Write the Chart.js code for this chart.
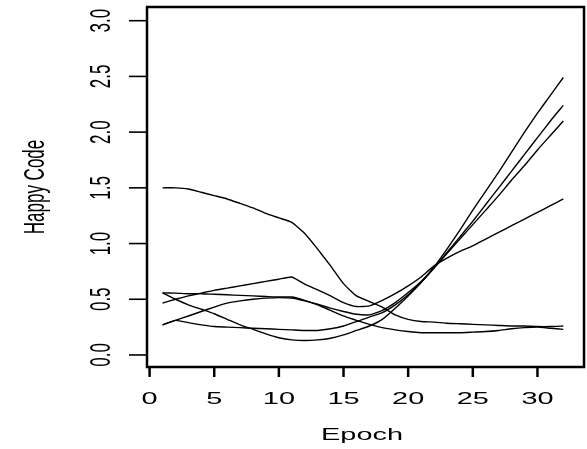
<!DOCTYPE html>
<html>
<head>
<meta charset="utf-8">
<script src="https://cdn.jsdelivr.net/npm/chart.js@4"></script>
<style>
  html, body { margin: 0; padding: 0; background: #fff; }
  canvas { display: block; }
</style>
</head>
<body>
<canvas id="chart" width="587" height="449"></canvas>
<script>
const epochs = [1, 2, 3, 4, 5, 6, 7, 8, 9, 10, 11, 12, 13, 14, 15, 16,
  17, 18, 19, 20, 21, 22, 23, 24, 25, 26, 27, 28, 29, 30, 31, 32];

// one array per training run
const runHigh = [1.50, 1.50, 1.49, 1.46, 1.43, 1.40, 1.36, 1.32, 1.27, 1.23, 1.19, 1.09, 0.95, 0.80, 0.64, 0.53,
  0.48, 0.43, 0.36, 0.32, 0.30, 0.295, 0.285, 0.28, 0.275, 0.27, 0.265, 0.26, 0.26, 0.255, 0.255, 0.26];
const runBump = [0.465, 0.50, 0.53, 0.555, 0.58, 0.60, 0.62, 0.64, 0.66, 0.68, 0.70, 0.635, 0.585, 0.53, 0.47, 0.435,
  0.44, 0.49, 0.55, 0.62, 0.70, 0.80, 0.87, 0.93, 0.98, 1.04, 1.10, 1.16, 1.22, 1.28, 1.34, 1.40];
const runDip = [0.557, 0.50, 0.45, 0.41, 0.37, 0.32, 0.27, 0.23, 0.19, 0.155, 0.135, 0.13, 0.135, 0.15, 0.18, 0.22,
  0.26, 0.32, 0.42, 0.53, 0.65, 0.79, 0.95, 1.12, 1.30, 1.47, 1.64, 1.82, 2.00, 2.17, 2.33, 2.49];
const runFlat = [0.27, 0.31, 0.29, 0.27, 0.255, 0.25, 0.245, 0.24, 0.235, 0.23, 0.225, 0.22, 0.22, 0.235, 0.26, 0.30,
  0.34, 0.38, 0.45, 0.54, 0.65, 0.78, 0.92, 1.06, 1.20, 1.35, 1.50, 1.65, 1.80, 1.95, 2.10, 2.24];
const runRise = [0.27, 0.31, 0.35, 0.39, 0.43, 0.465, 0.485, 0.50, 0.51, 0.515, 0.51, 0.485, 0.455, 0.42, 0.39, 0.365,
  0.36, 0.40, 0.47, 0.56, 0.66, 0.78, 0.91, 1.04, 1.17, 1.30, 1.43, 1.57, 1.70, 1.84, 1.97, 2.10];
const runSlide = [0.557, 0.555, 0.55, 0.55, 0.545, 0.54, 0.535, 0.53, 0.525, 0.52, 0.52, 0.49, 0.45, 0.40, 0.35, 0.31,
  0.275, 0.245, 0.225, 0.21, 0.20, 0.20, 0.20, 0.20, 0.205, 0.21, 0.22, 0.235, 0.245, 0.25, 0.24, 0.23];

const xTicks = [0, 5, 10, 15, 20, 25, 30];
const yTicks = [0, 0.5, 1, 1.5, 2, 2.5, 3];
const yTickLabels = ['0.0', '0.5', '1.0', '1.5', '2.0', '2.5', '3.0'];
const xTitle = 'Epoch';
const yTitle = 'Happy Code';

const runs = [runHigh, runBump, runDip, runFlat, runRise, runSlide];

// text in this plot is wide, so every label gets stretched sideways
const stretch = 1.7;
const labelFont = '17px "Liberation Sans", Arial, sans-serif';

function wideText(ctx, text, x, y, rotated) {
  ctx.save();
  ctx.translate(x, y);
  ctx.scale(stretch, 1);
  if (rotated) ctx.rotate(-Math.PI / 2);
  ctx.textAlign = 'center';
  ctx.textBaseline = 'alphabetic';
  ctx.fillText(text, 0, 0);
  ctx.restore();
}

// box, ticks and labels drawn base-graphics style
const boxAxes = {
  id: 'boxAxes',
  afterDraw(chart) {
    const { ctx, chartArea: a, scales: { x, y } } = chart;
    ctx.save();
    ctx.strokeStyle = '#000';
    ctx.fillStyle = '#000';
    ctx.font = labelFont;

    ctx.lineWidth = 2.5;
    ctx.strokeRect(a.left, a.top, a.right - a.left, a.bottom - a.top);

    xTicks.forEach(v => {
      const px = x.getPixelForValue(v);
      ctx.lineWidth = 2.5;
      ctx.beginPath();
      ctx.moveTo(px, a.bottom);
      ctx.lineTo(px, a.bottom + 10);
      ctx.stroke();
      wideText(ctx, String(v), px, 403.5, false);
    });

    yTicks.forEach((v, i) => {
      const py = y.getPixelForValue(v);
      ctx.lineWidth = 1.6;
      ctx.beginPath();
      ctx.moveTo(a.left, py);
      ctx.lineTo(a.left - 18, py);
      ctx.stroke();
      wideText(ctx, yTickLabels[i], 110, py, true);
    });

    wideText(ctx, xTitle, 362, 440, false);
    wideText(ctx, yTitle, 43.5, (a.top + a.bottom) / 2, true);
    ctx.restore();
  }
};

new Chart(document.getElementById('chart'), {
  type: 'line',
  data: {
    datasets: runs.map((r, i) => ({
      label: 'run ' + (i + 1),
      data: epochs.map((e, j) => ({ x: e, y: r[j] })),
      borderColor: '#000',
      borderWidth: 1.4,
      pointRadius: 0,
      tension: 0.15,
      fill: false
    }))
  },
  options: {
    responsive: false,
    animation: false,
    layout: { padding: { left: 147, top: 7, right: 3, bottom: 82 } },
    plugins: { legend: { display: false }, tooltip: { enabled: false } },
    scales: {
      x: { type: 'linear', min: -0.2, max: 33.6, display: false },
      y: { min: -0.108, max: 3.123, display: false }
    }
  },
  plugins: [boxAxes]
});
</script>
</body>
</html>
